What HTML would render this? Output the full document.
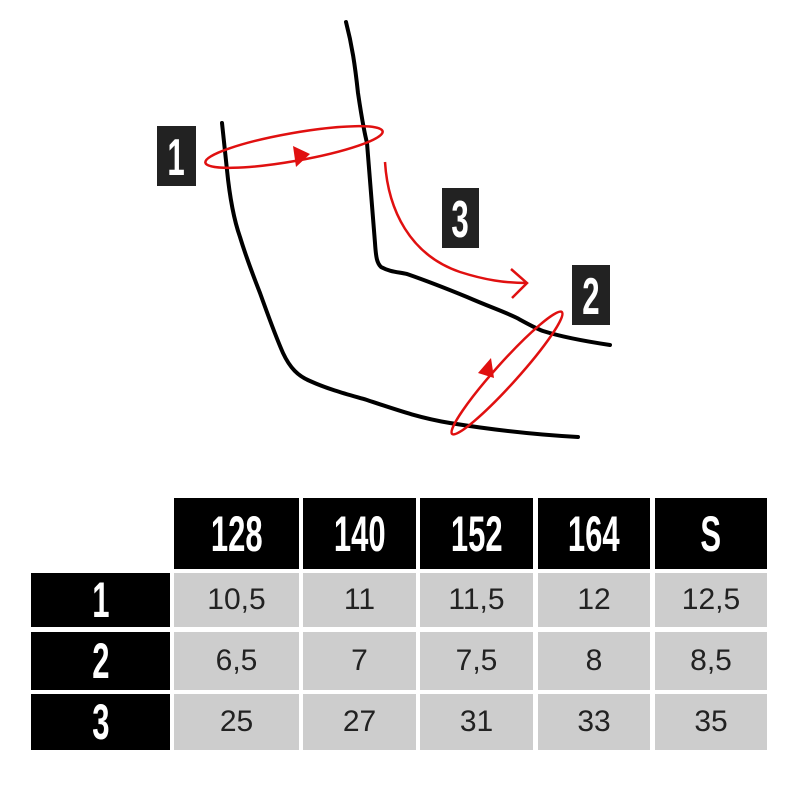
<!DOCTYPE html><html><head><style>
body{margin:0;width:800px;height:800px;background:#fff;overflow:hidden;position:relative;font-family:"Liberation Sans",sans-serif}
.c{position:absolute;display:flex;align-items:center;justify-content:center}
.h{background:#000;color:#fff;font-weight:bold;font-size:50px}
.h span{display:inline-block;transform:scaleX(0.62)}
.g{background:#cdcdcd;color:#222;font-size:30px}
</style></head><body>
<svg width="800" height="470" style="position:absolute;left:0;top:0">
<g fill="none" stroke="#000" stroke-width="4" stroke-linecap="round" stroke-linejoin="round">
<path d="M222,123 L227,170 C230,200 234,220 240,237 C247,260 253,275 260,293 C268,315 275,335 283,353 C290,368 298,376 310,381 C330,390 350,395 367,400 C400,411 420,418 450,423 C500,431 540,435 578,437"/>
<path d="M346,22 C352,45 355,65 358,93 C362,120 365,135 367,143 C370,180 373,215 375,243 C376,258 377,263 381,267 C390,272 398,272 407,274 C430,282 450,290 467,297 C490,307 505,312 517,318 C530,325 535,328 543,331 C565,338 590,342 610,345"/>
</g>
<g fill="none" stroke="#e01010" stroke-width="2.5">
<ellipse cx="294" cy="147" rx="90" ry="14" transform="rotate(-10 294 147)"/>
<ellipse cx="507" cy="373" rx="82" ry="11" transform="rotate(-48 507 373)"/>
<path d="M385,162 C388,210 410,255 460,272 C485,280 505,283 527,283"/>
<path d="M511,269 L527,283 L512,298"/>
</g>
<polygon points="293,146 310,154 296,167" fill="#e01010"/>
<polygon points="491,358 494,378 478,373" fill="#e01010"/>
<g fill="#222"><rect x="157" y="126" width="39" height="60"/><rect x="442" y="188" width="37" height="60"/><rect x="572" y="265" width="38" height="60"/></g>
<g fill="#fff" font-weight="bold" font-size="52" text-anchor="middle">
<text x="176" y="175" transform="translate(176 0) scale(0.6 1) translate(-176 0)">1</text>
<text x="460" y="237" transform="translate(460 0) scale(0.6 1) translate(-460 0)">3</text>
<text x="591" y="314" transform="translate(591 0) scale(0.6 1) translate(-591 0)">2</text>
</g>
</svg>
<div class="c h" style="left:174px;top:498px;width:125px;height:71px"><span>128</span></div>
<div class="c h" style="left:303px;top:498px;width:113px;height:71px"><span>140</span></div>
<div class="c h" style="left:420px;top:498px;width:113px;height:71px"><span>152</span></div>
<div class="c h" style="left:538px;top:498px;width:112px;height:71px"><span>164</span></div>
<div class="c h" style="left:655px;top:498px;width:112px;height:71px"><span>S</span></div>

<div class="c h" style="left:31px;top:573px;width:139px;height:54px"><span>1</span></div>
<div class="c h" style="left:31px;top:632px;width:139px;height:58px"><span>2</span></div>
<div class="c h" style="left:31px;top:694px;width:139px;height:56px"><span>3</span></div>

<div class="c g" style="left:174px;top:573px;width:125px;height:54px">10,5</div>
<div class="c g" style="left:303px;top:573px;width:113px;height:54px">11</div>
<div class="c g" style="left:420px;top:573px;width:113px;height:54px">11,5</div>
<div class="c g" style="left:538px;top:573px;width:112px;height:54px">12</div>
<div class="c g" style="left:655px;top:573px;width:112px;height:54px">12,5</div>

<div class="c g" style="left:174px;top:632px;width:125px;height:58px">6,5</div>
<div class="c g" style="left:303px;top:632px;width:113px;height:58px">7</div>
<div class="c g" style="left:420px;top:632px;width:113px;height:58px">7,5</div>
<div class="c g" style="left:538px;top:632px;width:112px;height:58px">8</div>
<div class="c g" style="left:655px;top:632px;width:112px;height:58px">8,5</div>

<div class="c g" style="left:174px;top:694px;width:125px;height:56px">25</div>
<div class="c g" style="left:303px;top:694px;width:113px;height:56px">27</div>
<div class="c g" style="left:420px;top:694px;width:113px;height:56px">31</div>
<div class="c g" style="left:538px;top:694px;width:112px;height:56px">33</div>
<div class="c g" style="left:655px;top:694px;width:112px;height:56px">35</div>
</body></html>
